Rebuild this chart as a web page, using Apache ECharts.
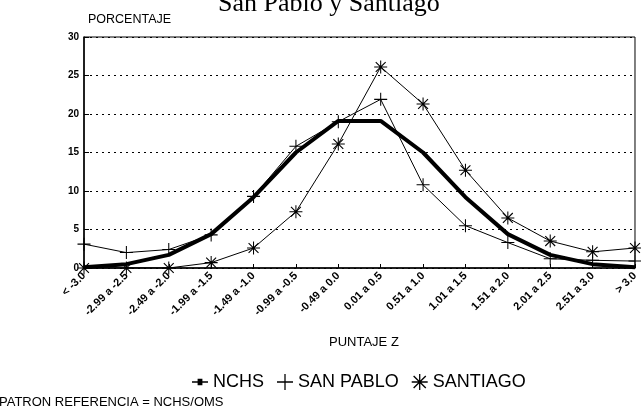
<!DOCTYPE html>
<html>
<head>
<meta charset="utf-8">
<script src="https://cdn.jsdelivr.net/npm/echarts@6/dist/echarts.min.js"></script>
<style>
html,body{margin:0;padding:0;background:#fff;}
#c{width:641px;height:412px;}
</style>
</head>
<body>
<div id="c"></div>
<script>
var categories = ['< -3.0','-2.99 a -2.5','-2.49 a -2.0','-1.99 a -1.5','-1.49 a -1.0','-0.99 a -0.5','-0.49 a 0.0','0.01 a 0.5','0.51 a 1.0','1.01 a 1.5','1.51 a 2.0','2.01 a 2.5','2.51 a 3.0','> 3.0'];
var nchs = [0.1, 0.5, 1.7, 4.4, 9.2, 15.0, 19.1, 19.1, 15.0, 9.2, 4.4, 1.7, 0.5, 0.1];
var sanPablo = [3.1, 2.0, 2.4, 4.3, 9.3, 15.8, 19.0, 21.9, 10.8, 5.5, 3.3, 1.2, 1.0, 0.9];
var santiago = [0, 0, 0, 0.7, 2.6, 7.3, 16.1, 26.1, 21.3, 12.7, 6.5, 3.5, 2.1, 2.6];
var yTicks = [0, 5, 10, 15, 20, 25, 30];

var SANS = '"Liberation Sans", Arial, sans-serif';
var plusPath = 'path://M4.6,0H5.4V4.6H10V5.4H5.4V10H4.6V5.4H0V4.6H4.6Z';
var starPath = 'path://M4.6,0L5.4,0L5.4,10L4.6,10Z M0,4.6L10,4.6L10,5.4L0,5.4Z M1.5,0.9L9.1,8.5L8.5,9.1L0.9,1.5Z M8.5,0.9L9.1,1.5L1.5,9.1L0.9,8.5Z';
var nchsIcon = 'path://M0,4.5L3.5,4.5L3.5,3L6.5,3L6.5,4.5L10,4.5L10,5.5L6.5,5.5L6.5,7L3.5,7L3.5,5.5L0,5.5Z';

var chart = echarts.init(document.getElementById('c'), null, {renderer: 'canvas'});
chart.setOption({
  animation: false,
  backgroundColor: '#fff',
  graphic: [
    {type: 'text', left: 218, top: -8.5, style: {text: 'San Pablo y Santiago', font: '26px "Liberation Serif", "Times New Roman", serif', fill: '#000'}},
    {type: 'text', left: 88, top: 13, style: {text: 'PORCENTAJE', font: '12.5px ' + SANS, fill: '#000'}},
    {type: 'text', left: 329, top: 335.5, style: {text: 'PUNTAJE Z', font: '13px ' + SANS, fill: '#000'}},
    {type: 'text', left: -1, top: 395.5, style: {text: 'PATRON REFERENCIA = NCHS/OMS', font: '13px ' + SANS, fill: '#000'}}
  ],
  legend: {
    left: 187, top: 368,
    itemWidth: 16, itemHeight: 16, itemGap: 13,
    textStyle: {fontFamily: SANS, fontSize: 18, color: '#000'},
    data: [
      {name: 'NCHS', icon: nchsIcon},
      {name: 'SAN PABLO', icon: plusPath},
      {name: 'SANTIAGO', icon: starPath}
    ]
  },
  grid: {left: 84, right: 0, top: 37, bottom: 144, show: true, borderColor: '#000', borderWidth: 1},
  xAxis: {
    type: 'category', data: categories, boundaryGap: false,
    axisLine: {lineStyle: {color: '#000', width: 1.5}},
    axisTick: {inside: true, length: 4, lineStyle: {color: '#000'}},
    axisLabel: {rotate: 45, margin: 6, fontSize: 11, fontWeight: 'bold', fontFamily: SANS, color: '#000', interval: 0},
    splitLine: {show: false}
  },
  yAxis: {
    type: 'value', min: 0, max: 30, interval: 5,
    axisLine: {show: true, lineStyle: {color: '#000', width: 1.5}},
    axisTick: {show: true, inside: true, length: 5, lineStyle: {color: '#000'}},
    axisLabel: {margin: 5, fontSize: 10, fontWeight: 'bold', fontFamily: SANS, color: '#000',
      formatter: function (v) { return yTicks.indexOf(v) >= 0 ? String(v) : ''; }},
    splitLine: {show: true, lineStyle: {color: '#000', type: [2, 4], width: 1.2}}
  },
  series: [
    {name: 'NCHS', type: 'line', data: nchs, symbol: 'none', lineStyle: {color: '#000', width: 4}, itemStyle: {color: '#000'}, z: 3},
    {name: 'SAN PABLO', type: 'line', data: sanPablo, symbol: plusPath, symbolSize: 13, showSymbol: true,
      lineStyle: {color: '#000', width: 1}, itemStyle: {color: '#000'}, z: 4},
    {name: 'SANTIAGO', type: 'line', data: santiago, symbol: starPath, symbolSize: 13, showSymbol: true,
      lineStyle: {color: '#000', width: 1}, itemStyle: {color: '#000'}, z: 5}
  ]
});
</script>
</body>
</html>
